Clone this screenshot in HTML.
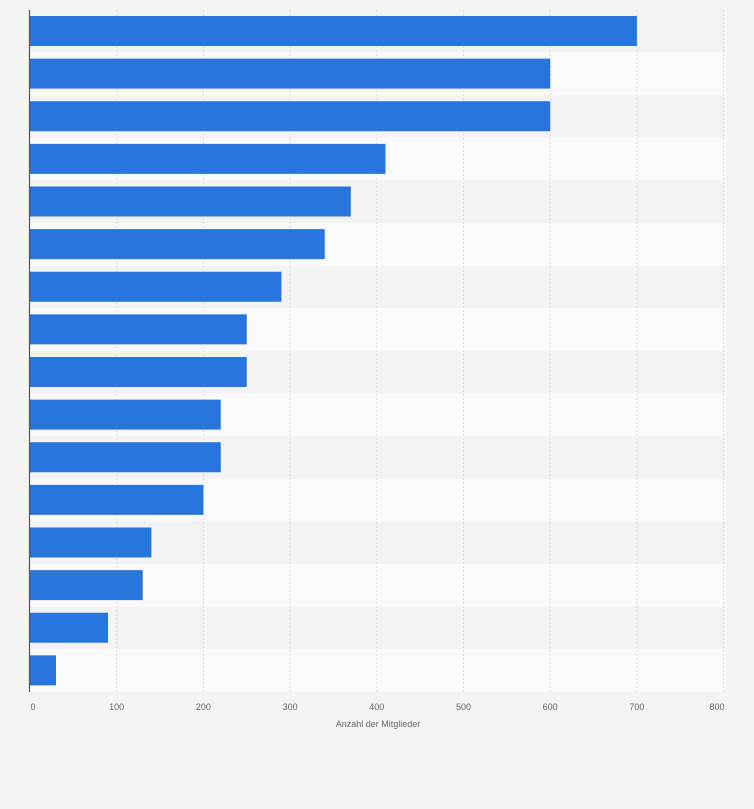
<!DOCTYPE html>
<html><head><meta charset="utf-8"><style>
body{margin:0;background:#f4f4f4;}
</style></head><body>
<svg width="754" height="809" xmlns="http://www.w3.org/2000/svg" style="display:block">
<rect width="754" height="809" fill="#f4f4f4"/>
<script>
var vals=[700,600,600,410,370,340,290,250,250,220,220,200,140,130,90,30];
var ns="http://www.w3.org/2000/svg",svg=document.currentScript.parentNode;
var top0=10,rh=42.625,x0=30,sc=0.867;
function el(n,a){var e=document.createElementNS(ns,n);for(var k in a)e.setAttribute(k,a[k]);svg.appendChild(e);return e;}
for(var i=0;i<16;i++){el("rect",{x:x0,y:top0+i*rh,width:695,height:rh,fill:i%2?"#fafafa":"#f3f3f3"});}
for(var t=1;t<=8;t++){var x=x0+t*100*sc;el("line",{x1:x,y1:top0,x2:x,y2:692,stroke:"#dcdcdc","stroke-width":1,"stroke-dasharray":"2,2"});}
for(var i=0;i<16;i++){el("rect",{x:x0,y:top0+i*rh+6,width:vals[i]*sc,height:30,fill:"#2876dd"});}
el("line",{x1:29.5,y1:10,x2:29.5,y2:692,stroke:"#555","stroke-width":1.2});
for(var t=0;t<=8;t++){var x=x0+t*100*sc;var tx=el("text",{x:t==0?33:(t==8?717:x),y:710,"font-family":"Liberation Sans, sans-serif","font-size":"9","fill":"#666","text-anchor":"middle"});tx.textContent=t*100;}
var tt=el("text",{x:378,y:727,"font-family":"Liberation Sans, sans-serif","font-size":"9","fill":"#666","text-anchor":"middle"});tt.textContent="Anzahl der Mitglieder";
</script>
</svg>
</body></html>
